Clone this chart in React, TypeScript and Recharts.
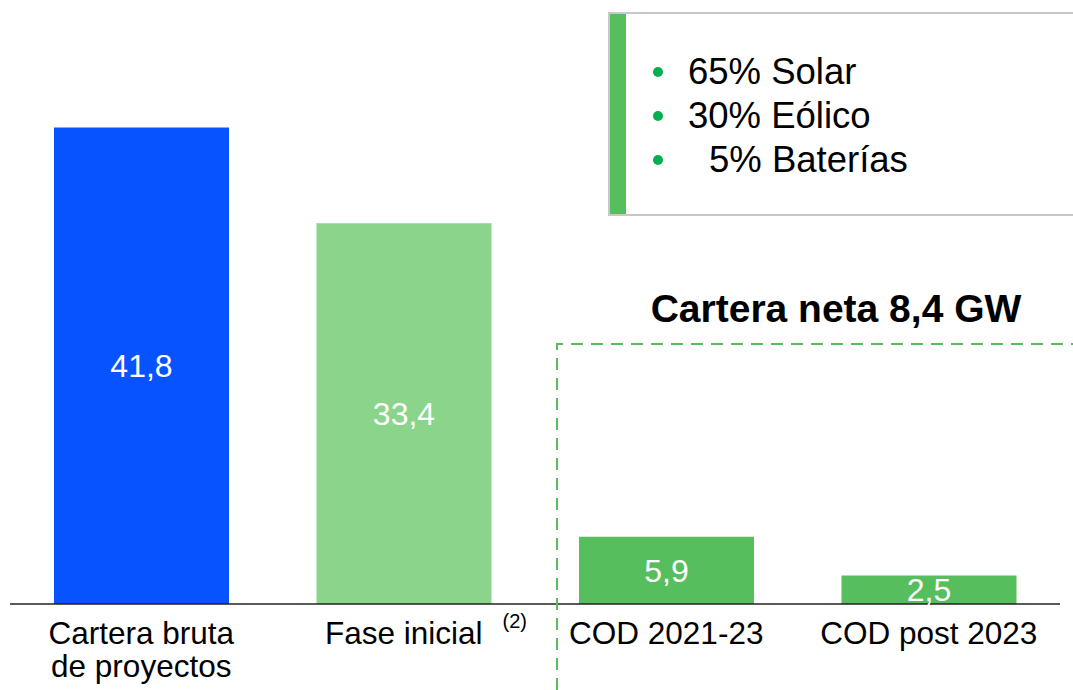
import React from "react";
import { BarChart, Bar, XAxis, YAxis, Cell, LabelList } from "recharts";

const categories = ["Cartera bruta\nde proyectos", "Fase inicial", "COD 2021-23", "COD post 2023"];
const values = [41.8, 33.4, 5.9, 2.5];
const mixItems = ["65% Solar", "30% Eólico", "5% Baterías"];
const netTitle = "Cartera neta 8,4 GW";
const footnote = "(2)";

const palette = ["#0753FF", "#8AD48B", "#56BE5C", "#56BE5C"];
const font = "'Liberation Sans', Arial, sans-serif";

const data = categories.map((name, i) => ({ name, value: values[i] }));

const fmt = (v: any) => String(v).replace(".", ",");

function CategoryTick(props: any) {
  const { x, payload } = props;
  const lines = String(payload.value).split("\n");
  return (
    <g>
      {lines.map((line, i) => (
        <text key={i} x={x} y={644 + i * 33} textAnchor="middle" fontSize={31.5} fill="#000" fontFamily={font}>
          {line}
        </text>
      ))}
      {payload.value === "Fase inicial" && (
        <text x={x + 111} y={628} textAnchor="middle" fontSize={20} fill="#000" fontFamily={font}>
          {footnote}
        </text>
      )}
    </g>
  );
}

export default function App() {
  return (
    <div style={{ position: "absolute", left: 0, top: 0, width: 1073, height: 690, background: "#fff", fontFamily: font }}>
      <BarChart width={1073} height={690} data={data} margin={{ top: 34, right: 13, left: 10, bottom: 56 }}>
        <XAxis
          dataKey="name"
          height={30}
          tickLine={false}
          axisLine={{ stroke: "#222", strokeWidth: 1.5 }}
          tick={<CategoryTick />}
          interval={0}
        />
        <YAxis hide domain={[0, 50]} />
        <Bar dataKey="value" barSize={175} isAnimationActive={false}>
          {data.map((_, i) => (
            <Cell key={i} fill={palette[i]} />
          ))}
          <LabelList dataKey="value" position="center" fill="#fff" fontSize={32} fontFamily={font} formatter={fmt} />
        </Bar>
      </BarChart>
      <svg width={1073} height={690} style={{ position: "absolute", left: 0, top: 0, pointerEvents: "none" }}>
        {/* mix box */}
        <rect x={609} y={13} width={470} height={202} fill="none" stroke="#c8c8c8" strokeWidth={2} />
        <rect x={610} y={14} width={16} height={200} fill="#58BD5C" />
        {mixItems.map((t, i) => (
          <g key={t}>
            <circle cx={658} cy={72 + i * 44} r={5} fill="#00B050" />
            <text x={i === 2 ? 709 : 688} y={84 + i * 44} fontSize={36.5} fill="#000" fontFamily={font}>
              {t}
            </text>
          </g>
        ))}
        <text x={836} y={322} textAnchor="middle" fontSize={39} fontWeight="bold" fill="#000" fontFamily={font}>
          {netTitle}
        </text>
        <path d="M557,690 L557,344 L1073,344" fill="none" stroke="#58BD5C" strokeWidth={2} strokeDasharray="12 8" />
      </svg>
    </div>
  );
}
